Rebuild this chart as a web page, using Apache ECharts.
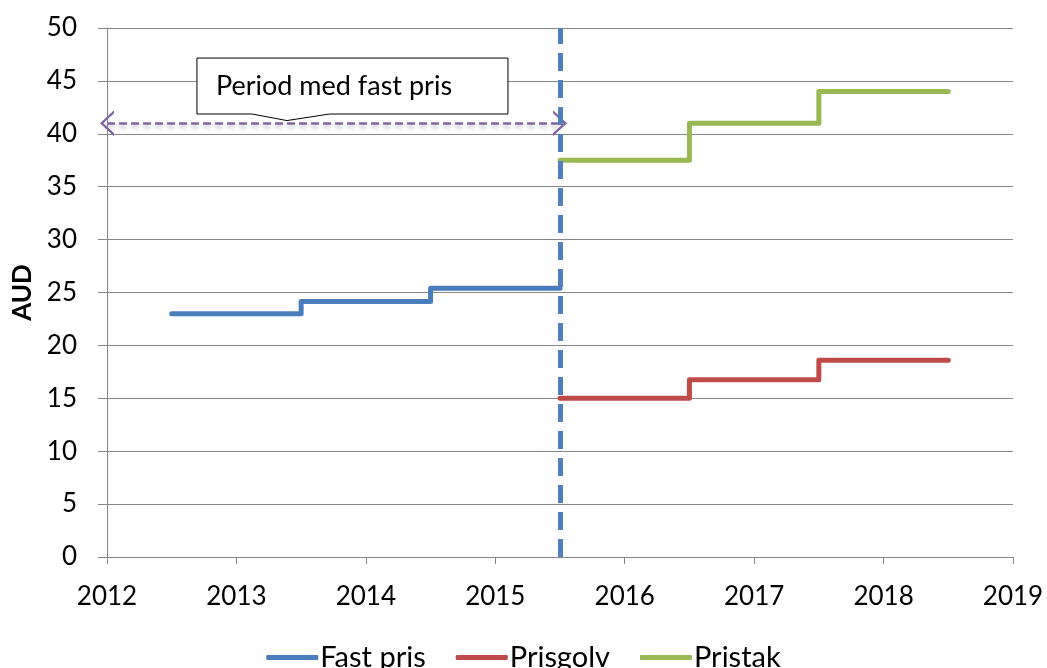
<!DOCTYPE html>
<html>
<head>
<meta charset="utf-8">
<script src="https://cdn.jsdelivr.net/npm/echarts@6/dist/echarts.min.js"></script>
<style>
  html, body { margin: 0; padding: 0; background: #fff; }
  #chart { width: 1047px; height: 668px; }
</style>
</head>
<body>
<div id="chart"></div>
<script>
// year breakpoints (mid-year changes) and prices in AUD
const fastYears = [2012.5, 2013.5, 2014.5, 2015.5];
const fastPris = [23, 24.15, 25.4, 25.4];
const golvYears = [2015.5, 2016.5, 2017.5, 2018.5];
const prisgolv = [15, 16.75, 18.6, 18.6];
const takYears = [2015.5, 2016.5, 2017.5, 2018.5];
const pristak = [37.5, 41, 44, 44];

const seriesNames = ['Fast pris', 'Prisgolv', 'Pristak'];
const cutoverYear = 2015.5;
const periodLevel = 41;
const periodLabel = 'Period med fast pris';

const FONT = 'Lato';
const gridColor = '#868686';

const zip = (xs, ys) => xs.map((x, i) => [x, ys[i]]);

const chart = echarts.init(document.getElementById('chart'));

const stepLine = (name, color, xs, ys) => ({
  name: name,
  type: 'line',
  step: 'end',
  data: zip(xs, ys),
  symbol: 'none',
  lineStyle: { color: color, width: 5, cap: 'round', join: 'round' },
  itemStyle: { color: color },
  z: 3
});

const chevron = 'path://M10,0 L20,11 L17.6,11 L10,2.6 L2.4,11 L0,11 Z';

const option = {
  animation: false,
  textStyle: { fontFamily: FONT },
  grid: { left: 107, right: 34, top: 28, bottom: 111, containLabel: false, outerBoundsMode: 'none' },
  legend: {
    bottom: -9,
    left: 'center',
    icon: 'roundRect',
    itemWidth: 52,
    itemHeight: 5,
    itemGap: 30,
    textStyle: { fontFamily: FONT, fontSize: 29, color: '#000', padding: [0, 0, 0, -3] },
    data: seriesNames
  },
  xAxis: {
    type: 'value',
    min: 2012,
    max: 2019,
    interval: 1,
    axisLine: { lineStyle: { color: gridColor, width: 1 } },
    axisTick: { show: true, length: 7, lineStyle: { color: gridColor } },
    axisLabel: { fontSize: 26, color: '#000', margin: 27, fontFamily: FONT, formatter: v => String(v) },
    splitLine: { show: false }
  },
  yAxis: {
    type: 'value',
    min: 0,
    max: 50,
    interval: 5,
    name: 'AUD',
    nameLocation: 'middle',
    nameGap: 67,
    nameTextStyle: { fontSize: 26, fontWeight: 'bold', color: '#000', fontFamily: FONT },
    axisLine: { show: true, lineStyle: { color: gridColor, width: 1 } },
    axisTick: { show: true, inside: false, length: 9, lineStyle: { color: gridColor } },
    axisLabel: { fontSize: 26, color: '#000', margin: 30, fontFamily: FONT },
    splitLine: { lineStyle: { color: gridColor, width: 1 } }
  },
  series: [
    Object.assign(stepLine(seriesNames[0], '#4A7EBB', fastYears, fastPris), {
      markLine: {
        silent: true,
        symbol: ['none', 'none'],
        label: { show: false },
        lineStyle: { color: '#4F81BD', width: 5, type: [18, 9] },
        data: [[{ coord: [cutoverYear, 0] }, { coord: [cutoverYear, 50] }]],
        z: 5
      }
    }),
    stepLine(seriesNames[1], '#BE4B48', golvYears, prisgolv),
    Object.assign(stepLine(seriesNames[2], '#98B954', takYears, pristak), {
      markLine: {
        silent: true,
        symbol: [chevron, chevron],
        symbolSize: [26, 14],
        label: { show: false },
        itemStyle: { color: '#8064A2' },
        lineStyle: {
          color: '#8064A2', width: 2.5, type: [8, 4],
          shadowColor: 'rgba(0,0,0,0.25)', shadowBlur: 4, shadowOffsetY: 3
        },
        data: [[{ coord: [2012, periodLevel] }, { coord: [cutoverYear, periodLevel] }]],
        z: 4
      }
    })
  ]
};

chart.setOption(option);

// callout box with pointer, anchored in data space above the arrow
const box = { x0: 2012.695, x1: 2015.098, yTop: 47.16, yBot: 41.87 };
const pointer = { a: 2013.12, b: 2013.72, tipX: 2013.39, tipY: 41.25 };
const px = (x, y) => chart.convertToPixel({ gridIndex: 0 }, [x, y]);

const tl = px(box.x0, box.yTop), br = px(box.x1, box.yBot);
const pa = px(pointer.a, box.yBot), pb = px(pointer.b, box.yBot), tip = px(pointer.tipX, pointer.tipY);

chart.setOption({
  graphic: [{
    type: 'polygon',
    z: 10,
    shape: {
      points: [
        [tl[0], tl[1]], [br[0], tl[1]], [br[0], br[1]],
        [pb[0], br[1]], [tip[0], tip[1]], [pa[0], br[1]],
        [tl[0], br[1]]
      ]
    },
    style: { fill: '#fff', stroke: '#000', lineWidth: 1 }
  }, {
    type: 'text',
    z: 11,
    x: tl[0] + 19,
    y: (tl[1] + br[1]) / 2,
    style: {
      text: periodLabel,
      font: '27px ' + FONT,
      fill: '#000',
      verticalAlign: 'middle'
    }
  }]
});
</script>
</body>
</html>
